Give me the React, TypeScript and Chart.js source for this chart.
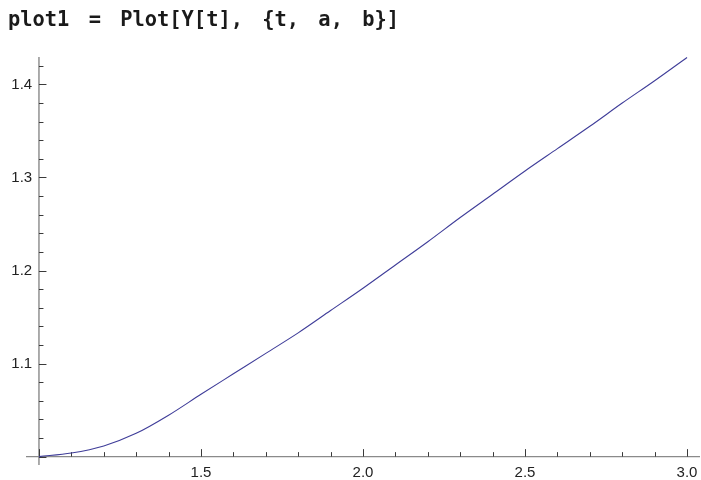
import React, { useEffect, useRef } from "react";
import { Chart, registerables } from "chart.js";

Chart.register(...registerables);

// Sampled solution Y(t) on [a, b] = [1, 3]
const tValues = [1.0, 1.1, 1.2, 1.3, 1.4, 1.5, 1.6, 1.7, 1.8, 1.9, 2.0, 2.1, 2.2, 2.3, 2.4, 2.5, 2.6, 2.7, 2.8, 2.9, 3.0];
const yValues = [1.0, 1.0039, 1.0115, 1.025, 1.0445, 1.067, 1.089, 1.111, 1.133, 1.157, 1.181, 1.206, 1.231, 1.257, 1.282, 1.307, 1.331, 1.355, 1.38, 1.404, 1.429];

// Labelled ticks on each axis
const xTickLabels = [1.5, 2.0, 2.5, 3.0];
const yTickLabels = [1.1, 1.2, 1.3, 1.4];

const titleText = "plot1 = Plot[Y[t], {t, a, b}]";

const X_MIN = 0.96;
const X_MAX = 3.04;
const Y_MIN = 0.991;
const Y_MAX = 1.4295;
const ORIGIN_X = 1.0;
const ORIGIN_Y = 1.0;
// y labels sit a little left of the vertical axis
const Y_LABEL_ANCHOR_X = 0.979;

// Draws Mathematica-style axes crossing at the origin, with inward ticks
const axesPlugin = {
  id: "crossAxes",
  beforeDatasetsDraw(chart: any) {
    const { ctx, chartArea, scales } = chart;
    const xs = scales.x;
    const ys = scales.y;
    const x0 = xs.getPixelForValue(ORIGIN_X);
    const y0 = ys.getPixelForValue(ORIGIN_Y);
    ctx.save();

    // axis lines
    ctx.strokeStyle = "#8a8a8a";
    ctx.lineWidth = 1.4;
    ctx.beginPath();
    ctx.moveTo(chartArea.left, y0);
    ctx.lineTo(chartArea.right, y0);
    ctx.moveTo(x0, chartArea.top);
    ctx.lineTo(x0, chartArea.bottom);
    ctx.stroke();

    // tick marks: major every 0.5 / 0.1, minor every 0.1 / 0.02
    ctx.strokeStyle = "#3a3a3a";
    ctx.lineWidth = 1;
    ctx.beginPath();
    for (let i = 10; i <= 30; i++) {
      const v = i / 10;
      const major = i % 5 === 0;
      const px = Math.round(xs.getPixelForValue(v)) + 0.5;
      const len = major ? 7.5 : 4.5;
      ctx.moveTo(px, y0);
      ctx.lineTo(px, y0 - len);
    }
    for (let i = 50; i <= 71; i++) {
      const v = i / 50;
      const major = i % 5 === 0;
      const py = Math.round(ys.getPixelForValue(v)) + 0.5;
      const len = major ? 7.5 : 4.5;
      ctx.moveTo(x0, py);
      ctx.lineTo(x0 + len, py);
    }
    ctx.stroke();
    ctx.restore();
  },
};

const noEdgePadding = (scale: any) => {
  scale.paddingLeft = 0;
  scale.paddingRight = 0;
  scale.paddingTop = 0;
  scale.paddingBottom = 0;
};

export default function App() {
  const canvasRef = useRef<HTMLCanvasElement | null>(null);

  useEffect(() => {
    const canvas = canvasRef.current;
    if (!canvas) return;
    const points = tValues.map((t, i) => ({ x: t, y: yValues[i] }));
    const tickFont = { family: "'Liberation Sans', Arial, sans-serif", size: 15 };

    const chart = new Chart(canvas, {
      type: "line",
      data: {
        datasets: [
          {
            data: points,
            borderColor: "#3f3d99",
            borderWidth: 1.1,
            pointRadius: 0,
            cubicInterpolationMode: "monotone",
            fill: false,
          },
        ],
      },
      options: {
        animation: false,
        responsive: false,
        devicePixelRatio: 1,
        layout: { padding: { left: 26, right: 1, top: 57, bottom: 15 } },
        plugins: {
          legend: { display: false },
          tooltip: { enabled: false },
          title: { display: false },
        },
        scales: {
          x: {
            type: "linear",
            min: X_MIN,
            max: X_MAX,
            position: { y: ORIGIN_Y },
            grid: { display: false },
            border: { display: false },
            afterFit: noEdgePadding,
            afterBuildTicks: (scale: any) => {
              scale.ticks = xTickLabels.map((v) => ({ value: v }));
            },
            ticks: {
              autoSkip: false,
              maxRotation: 0,
              padding: -1,
              color: "#222",
              font: tickFont,
              callback: (v: any) => Number(v).toFixed(1),
            },
          },
          y: {
            type: "linear",
            min: Y_MIN,
            max: Y_MAX,
            position: { x: Y_LABEL_ANCHOR_X },
            grid: { display: false },
            border: { display: false },
            afterFit: noEdgePadding,
            afterBuildTicks: (scale: any) => {
              scale.ticks = yTickLabels.map((v) => ({ value: v }));
            },
            ticks: {
              autoSkip: false,
              padding: 0,
              color: "#222",
              font: tickFont,
              callback: (v: any) => Number(v).toFixed(1),
            },
          },
        },
      },
      plugins: [axesPlugin],
    } as any);

    return () => chart.destroy();
  }, []);

  return (
    <div style={{ position: "absolute", left: 0, top: 0, width: 701, height: 480, background: "#fff" }}>
      <div
        style={{
          position: "absolute",
          left: 8,
          top: 8,
          fontFamily: "'DejaVu Sans Mono', monospace",
          fontWeight: "bold",
          fontSize: 20.4,
          lineHeight: "23px",
          wordSpacing: 7,
          color: "#1a1a1a",
          whiteSpace: "pre",
        }}
      >
        {titleText}
      </div>
      <canvas ref={canvasRef} width={701} height={480} style={{ display: "block", width: 701, height: 480 }} />
    </div>
  );
}
